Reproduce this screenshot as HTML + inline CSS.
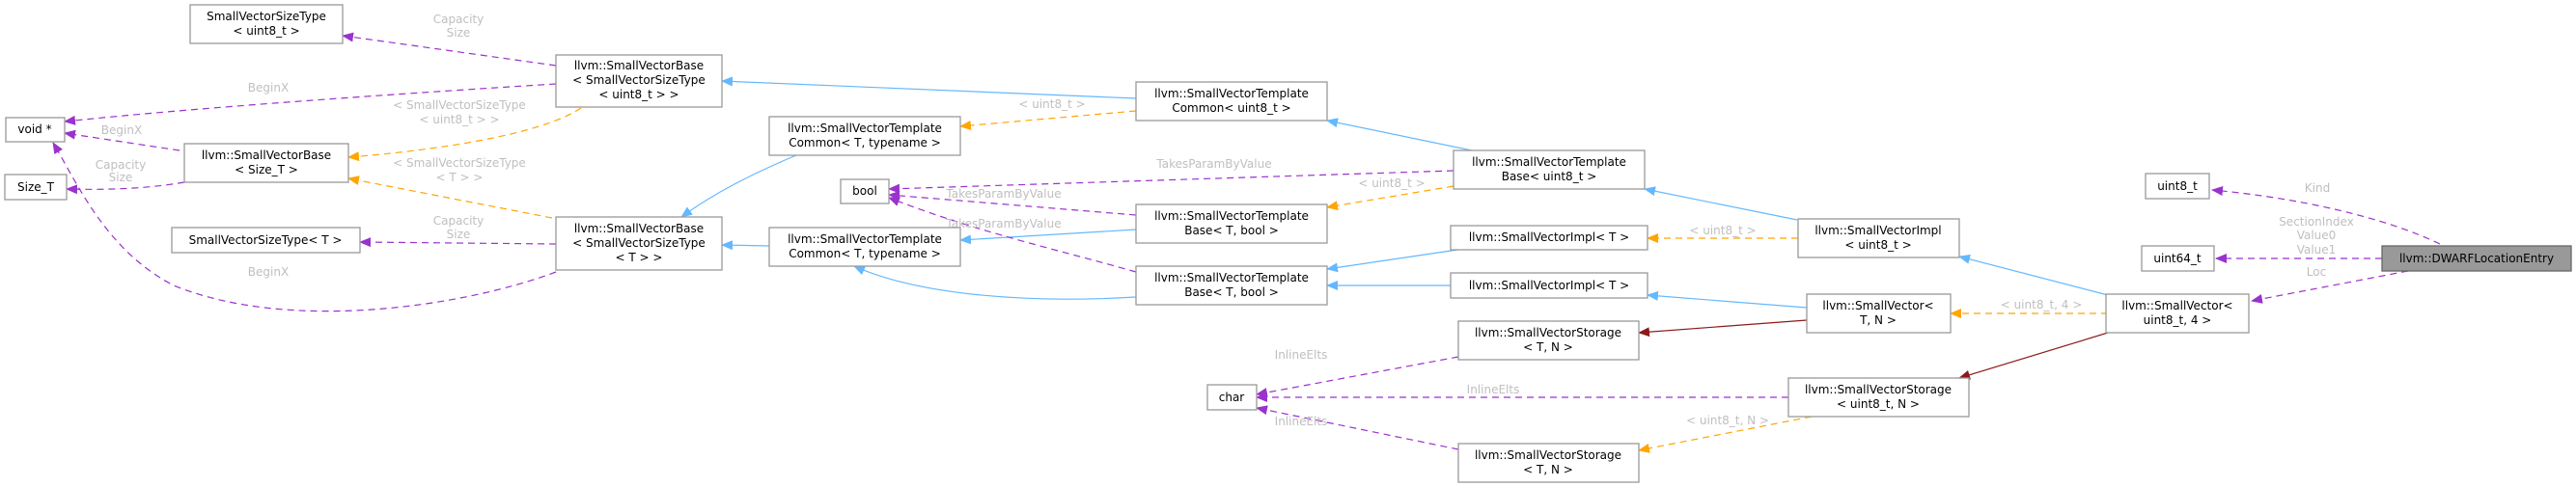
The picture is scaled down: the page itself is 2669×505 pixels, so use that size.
<!DOCTYPE html>
<html><head><meta charset="utf-8"><style>
html,body{margin:0;padding:0;background:#fff;}
svg{display:block;}
.n{fill:#fff;stroke:#999;stroke-width:1.3;}
.t{font-family:"DejaVu Sans","Liberation Sans",sans-serif;font-size:12px;fill:#000;text-anchor:middle;}
.l{font-family:"DejaVu Sans","Liberation Sans",sans-serif;font-size:12px;fill:#bfbfbf;text-anchor:middle;}
.b{stroke:#63b8ff;fill:none;stroke-width:1.2;}
.o{stroke:#ffa500;fill:none;stroke-width:1.2;stroke-dasharray:7,5;}
.p{stroke:#9a32cd;fill:none;stroke-width:1.2;stroke-dasharray:7,5;}
.r{stroke:#8b1a1a;fill:none;stroke-width:1.2;}
</style></head><body>
<svg width="2669" height="505" viewBox="0 0 2669 505" xmlns="http://www.w3.org/2000/svg">
<defs>
<marker id="mb" markerWidth="12" markerHeight="10" refX="11" refY="5" orient="auto" markerUnits="userSpaceOnUse"><path d="M0,0 L12,5 L0,10 z" fill="#63b8ff"/></marker>
<marker id="mo" markerWidth="12" markerHeight="10" refX="11" refY="5" orient="auto" markerUnits="userSpaceOnUse"><path d="M0,0 L12,5 L0,10 z" fill="#ffa500"/></marker>
<marker id="mp" markerWidth="12" markerHeight="10" refX="11" refY="5" orient="auto" markerUnits="userSpaceOnUse"><path d="M0,0 L12,5 L0,10 z" fill="#9a32cd"/></marker>
<marker id="mr" markerWidth="12" markerHeight="10" refX="11" refY="5" orient="auto" markerUnits="userSpaceOnUse"><path d="M0,0 L12,5 L0,10 z" fill="#8b1a1a"/></marker>
</defs>

<!-- edges -->
<path class="p" marker-end="url(#mp)" d="M576,68 L355,37"/>
<text class="l" x="475" y="24">Capacity</text><text class="l" x="475" y="38">Size</text>
<path class="p" marker-end="url(#mp)" d="M576,87 C400,98 200,112 67,126"/>
<text class="l" x="278" y="95">BeginX</text>
<path class="p" marker-end="url(#mp)" d="M186,156 L67,138"/>
<text class="l" x="126" y="139">BeginX</text>
<path class="p" marker-end="url(#mp)" d="M191,189 C150,196 110,197 69,196"/>
<text class="l" x="125" y="175">Capacity</text><text class="l" x="125" y="188">Size</text>
<path class="o" marker-end="url(#mo)" d="M602,112 C560,140 450,156 361,163"/>
<text class="l" x="476" y="113">&lt; SmallVectorSizeType</text><text class="l" x="476" y="128">&lt; uint8_t &gt; &gt;</text>
<path class="o" marker-end="url(#mo)" d="M572,226 L361,185"/>
<text class="l" x="476" y="173">&lt; SmallVectorSizeType</text><text class="l" x="476" y="188">&lt; T &gt; &gt;</text>
<path class="p" marker-end="url(#mp)" d="M576,253 L373,251"/>
<text class="l" x="475" y="233">Capacity</text><text class="l" x="475" y="247">Size</text>
<path class="p" marker-end="url(#mp)" d="M576,282 C480,318 300,345 180,296 C110,260 80,190 55,148"/>
<text class="l" x="278" y="286">BeginX</text>

<path class="b" marker-end="url(#mb)" d="M1177,102 L748,84"/>
<path class="b" marker-end="url(#mb)" d="M825,161 C780,180 740,200 706,225"/>
<path class="b" marker-end="url(#mb)" d="M797,255 L748,254"/>
<path class="o" marker-end="url(#mo)" d="M1177,115 L995,131"/>
<text class="l" x="1090" y="112">&lt; uint8_t &gt;</text>
<path class="b" marker-end="url(#mb)" d="M1525,156 L1375,125"/>
<path class="p" marker-end="url(#mp)" d="M1506,177 L921,196"/>
<text class="l" x="1258" y="174">TakesParamByValue</text>
<path class="o" marker-end="url(#mo)" d="M1506,193 L1375,215"/>
<text class="l" x="1442" y="194">&lt; uint8_t &gt;</text>
<path class="p" marker-end="url(#mp)" d="M1177,223 L921,202"/>
<text class="l" x="1040" y="205">TakesParamByValue</text>
<path class="b" marker-end="url(#mb)" d="M1177,238 L995,249"/>
<path class="p" marker-end="url(#mp)" d="M1177,282 C1100,260 1010,240 921,205"/>
<text class="l" x="1040" y="236">TakesParamByValue</text>
<path class="b" marker-end="url(#mb)" d="M1177,308 C1060,315 950,305 885,276"/>
<path class="b" marker-end="url(#mb)" d="M1510,259 L1375,279"/>
<path class="b" marker-end="url(#mb)" d="M1503,296 L1375,296"/>
<path class="b" marker-end="url(#mb)" d="M1862,228 L1704,196"/>
<path class="o" marker-end="url(#mo)" d="M1863,247 L1707,247"/>
<text class="l" x="1785" y="243">&lt; uint8_t &gt;</text>
<path class="b" marker-end="url(#mb)" d="M1872,319 L1707,306"/>
<path class="r" marker-end="url(#mr)" d="M1872,332 L1698,345"/>
<path class="p" marker-end="url(#mp)" d="M1511,370 L1302,409"/>
<text class="l" x="1348" y="372">InlineElts</text>
<path class="p" marker-end="url(#mp)" d="M1853,412 L1302,412"/>
<text class="l" x="1547" y="408">InlineElts</text>
<path class="p" marker-end="url(#mp)" d="M1511,466 L1302,423"/>
<text class="l" x="1348" y="441">InlineElts</text>
<path class="o" marker-end="url(#mo)" d="M1877,432 L1698,467"/>
<text class="l" x="1790" y="440">&lt; uint8_t, N &gt;</text>
<path class="b" marker-end="url(#mb)" d="M2184,306 L2030,266"/>
<path class="o" marker-end="url(#mo)" d="M2184,325 L2021,325"/>
<text class="l" x="2115" y="320">&lt; uint8_t, 4 &gt;</text>
<path class="r" marker-end="url(#mr)" d="M2184,345 L2030,392"/>
<path class="p" marker-end="url(#mp)" d="M2528,253 C2470,225 2380,205 2292,197"/>
<text class="l" x="2401" y="199">Kind</text>
<path class="p" marker-end="url(#mp)" d="M2468,268 L2296,268"/>
<text class="l" x="2400" y="234">SectionIndex</text><text class="l" x="2400" y="248">Value0</text><text class="l" x="2400" y="263">Value1</text>
<path class="p" marker-end="url(#mp)" d="M2495,281 L2333,312"/>
<text class="l" x="2400" y="286">Loc</text>

<!-- nodes -->
<rect class="n" x="197" y="5" width="158" height="40"/><text class="t" x="276" y="21">SmallVectorSizeType</text><text class="t" x="276" y="36">&lt; uint8_t &gt;</text>
<rect class="n" x="576" y="57" width="172" height="54"/><text class="t" x="662" y="72">llvm::SmallVectorBase</text><text class="t" x="662" y="87">&lt; SmallVectorSizeType</text><text class="t" x="662" y="102">&lt; uint8_t &gt; &gt;</text>
<rect class="n" x="6" y="122" width="61" height="25"/><text class="t" x="36" y="138">void *</text>
<rect class="n" x="5" y="181" width="64" height="26"/><text class="t" x="37" y="198">Size_T</text>
<rect class="n" x="191" y="149" width="170" height="40"/><text class="t" x="276" y="165">llvm::SmallVectorBase</text><text class="t" x="276" y="180">&lt; Size_T &gt;</text>
<rect class="n" x="178" y="236" width="195" height="26"/><text class="t" x="275" y="253">SmallVectorSizeType&lt; T &gt;</text>
<rect class="n" x="576" y="225" width="172" height="55"/><text class="t" x="662" y="241">llvm::SmallVectorBase</text><text class="t" x="662" y="256">&lt; SmallVectorSizeType</text><text class="t" x="662" y="271">&lt; T &gt; &gt;</text>
<rect class="n" x="1177" y="85" width="198" height="40"/><text class="t" x="1276" y="101">llvm::SmallVectorTemplate</text><text class="t" x="1276" y="116">Common&lt; uint8_t &gt;</text>
<rect class="n" x="797" y="121" width="198" height="40"/><text class="t" x="896" y="137">llvm::SmallVectorTemplate</text><text class="t" x="896" y="152">Common&lt; T, typename &gt;</text>
<rect class="n" x="871" y="186" width="50" height="25"/><text class="t" x="896" y="202">bool</text>
<rect class="n" x="1177" y="212" width="198" height="40"/><text class="t" x="1276" y="228">llvm::SmallVectorTemplate</text><text class="t" x="1276" y="243">Base&lt; T, bool &gt;</text>
<rect class="n" x="797" y="236" width="198" height="40"/><text class="t" x="896" y="252">llvm::SmallVectorTemplate</text><text class="t" x="896" y="267">Common&lt; T, typename &gt;</text>
<rect class="n" x="1177" y="276" width="198" height="40"/><text class="t" x="1276" y="292">llvm::SmallVectorTemplate</text><text class="t" x="1276" y="307">Base&lt; T, bool &gt;</text>
<rect class="n" x="1251" y="399" width="51" height="26"/><text class="t" x="1276" y="416">char</text>
<rect class="n" x="1506" y="156" width="198" height="40"/><text class="t" x="1605" y="172">llvm::SmallVectorTemplate</text><text class="t" x="1605" y="187">Base&lt; uint8_t &gt;</text>
<rect class="n" x="1503" y="234" width="204" height="25"/><text class="t" x="1605" y="250">llvm::SmallVectorImpl&lt; T &gt;</text>
<rect class="n" x="1503" y="283" width="204" height="26"/><text class="t" x="1605" y="300">llvm::SmallVectorImpl&lt; T &gt;</text>
<rect class="n" x="1511" y="333" width="187" height="40"/><text class="t" x="1604" y="349">llvm::SmallVectorStorage</text><text class="t" x="1604" y="364">&lt; T, N &gt;</text>
<rect class="n" x="1511" y="460" width="187" height="40"/><text class="t" x="1604" y="476">llvm::SmallVectorStorage</text><text class="t" x="1604" y="491">&lt; T, N &gt;</text>
<rect class="n" x="1863" y="227" width="167" height="40"/><text class="t" x="1946" y="243">llvm::SmallVectorImpl</text><text class="t" x="1946" y="258">&lt; uint8_t &gt;</text>
<rect class="n" x="1872" y="305" width="149" height="40"/><text class="t" x="1946" y="321">llvm::SmallVector&lt;</text><text class="t" x="1946" y="336">T, N &gt;</text>
<rect class="n" x="1853" y="392" width="187" height="40"/><text class="t" x="1946" y="408">llvm::SmallVectorStorage</text><text class="t" x="1946" y="423">&lt; uint8_t, N &gt;</text>
<rect class="n" x="2223" y="180" width="66" height="26"/><text class="t" x="2256" y="197">uint8_t</text>
<rect class="n" x="2219" y="255" width="75" height="26"/><text class="t" x="2256" y="272">uint64_t</text>
<rect x="2468" y="255" width="196" height="26" fill="#999" stroke="#666" stroke-width="1.3"/><text class="t" x="2566" y="272">llvm::DWARFLocationEntry</text>
<rect class="n" x="2182" y="305" width="148" height="40"/><text class="t" x="2256" y="321">llvm::SmallVector&lt;</text><text class="t" x="2256" y="336">uint8_t, 4 &gt;</text>
</svg>
</body></html>
